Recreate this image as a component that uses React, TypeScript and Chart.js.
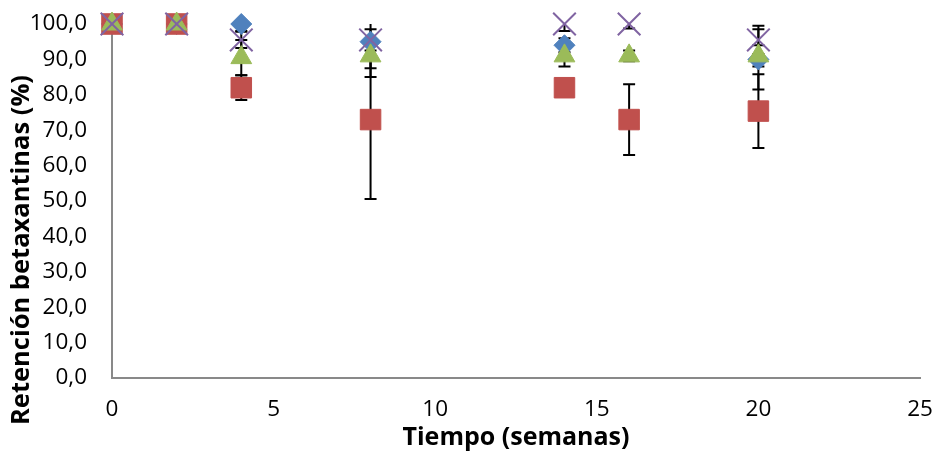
import React, { useEffect, useRef } from "react";
import { Chart, registerables } from "chart.js";

Chart.register(...registerables);

const weeks = [0, 2, 4, 8, 14, 16, 20];
const seriesBlue = [100, 100, 100, 95, 94, null, 90];
const errBlue = [0, 0, 2, 10, 2, 0, 8.5];
const seriesRed = [100, 100, 82, 73, 82, 73, 75.4];
const errRed = [0, 0, 3.5, 22.4, 2, 10, 10.4];
const seriesGreen = [100, 100, 90.5, 91, 91, 91, 91];
const errGreen = [0, 0, 5, 3.5, 3, 1.5, 3];
const seriesPurple = [100, 100, 95.5, 95.5, 100, 100, 95.5];
const errPurple = [0, 0, 2.3, 3, 2, 1.3, 4];
const yTitle = "Retención betaxantinas (%)";
const xTitle = "Tiempo (semanas)";

const errorsByDataset = [errBlue, errRed, errGreen, errPurple];

const errorBarPlugin = {
  id: "errorBars",
  beforeDatasetsDraw(chart: any) {
    const ctx = chart.ctx;
    const xs = chart.scales.x;
    const ys = chart.scales.y;
    const yMax = ys.max;
    ctx.save();
    ctx.strokeStyle = "#000";
    ctx.lineWidth = 2;
    chart.data.datasets.forEach((ds: any, i: number) => {
      const errs = errorsByDataset[i];
      ds.data.forEach((p: any, j: number) => {
        const e = errs[j];
        if (!e || p.y == null) return;
        const x = xs.getPixelForValue(p.x);
        const hiV = p.y + e;
        const loV = p.y - e;
        const yHi = ys.getPixelForValue(Math.min(hiV, yMax));
        const yLo = ys.getPixelForValue(loV);
        ctx.beginPath();
        ctx.moveTo(x, yHi);
        ctx.lineTo(x, yLo);
        if (hiV <= yMax) {
          ctx.moveTo(x - 6, yHi);
          ctx.lineTo(x + 6, yHi);
        }
        ctx.moveTo(x - 6, yLo);
        ctx.lineTo(x + 6, yLo);
        ctx.stroke();
      });
    });
    ctx.restore();
  },
};

const yTitlePlugin = {
  id: "yTitle",
  afterDraw(chart: any) {
    const ctx = chart.ctx;
    ctx.save();
    ctx.translate(22, 250);
    ctx.rotate(-Math.PI / 2);
    ctx.font = "bold 25.5px 'Open Sans'";
    ctx.fillStyle = "#000";
    ctx.textAlign = "center";
    ctx.textBaseline = "middle";
    ctx.fillText(yTitle, 0, 0);
    ctx.restore();
  },
};

const toPoints = (vals: (number | null)[]) => vals.map((v, i) => ({ x: weeks[i], y: v }));

export default function App() {
  const ref = useRef<HTMLCanvasElement>(null);
  useEffect(() => {
    if (!ref.current) return;
    const chart = new Chart(ref.current, {
      type: "scatter",
      data: {
        datasets: [
          {
            label: "Serie 1",
            data: toPoints(seriesBlue),
            pointStyle: "rectRot",
            pointRadius: 10.5,
            backgroundColor: "#4F81BD",
            borderColor: "#4F81BD",
            borderWidth: 1,
            order: 4,
          },
          {
            label: "Serie 2",
            data: toPoints(seriesRed),
            pointStyle: "rect",
            pointRadius: 14.5,
            backgroundColor: "#C0504D",
            borderColor: "#C0504D",
            borderWidth: 1,
            order: 3,
          },
          {
            label: "Serie 3",
            data: toPoints(seriesGreen),
            pointStyle: "triangle",
            pointRadius: 12,
            backgroundColor: "#9BBB59",
            borderColor: "#9BBB59",
            borderWidth: 1,
            order: 2,
          },
          {
            label: "Serie 4",
            data: toPoints(seriesPurple),
            pointStyle: "crossRot",
            pointRadius: 16,
            backgroundColor: "#8064A2",
            borderColor: "#8064A2",
            borderWidth: 2,
            order: 1,
          },
        ],
      },
      options: {
        responsive: false,
        animation: false,
        clip: false,
        layout: { padding: { left: 0, right: 18, top: 24, bottom: 0 } },
        plugins: {
          legend: { display: false },
          tooltip: { enabled: false },
        },
        scales: {
          x: {
            type: "linear",
            min: 0,
            max: 25,
            grid: { display: false, drawTicks: false },
            border: { display: true, color: "#898989", width: 2 },
            ticks: {
              stepSize: 5,
              color: "#000",
              padding: 18,
              font: { family: "'Open Sans'", size: 22.5 },
              maxRotation: 0,
            },
            title: {
              display: true,
              text: xTitle,
              color: "#000",
              font: { family: "'Open Sans'", size: 25, weight: "bold" },
              padding: { top: 0, bottom: 0 },
            },
            afterFit: (s: any) => {
              s.height = 75;
              s.paddingLeft = 0;
              s.paddingRight = 0;
            },
          },
          y: {
            type: "linear",
            min: 0,
            max: 100,
            grid: { display: false, drawTicks: false },
            border: { display: true, color: "#898989", width: 2 },
            ticks: {
              stepSize: 10,
              color: "#000",
              padding: 25,
              font: { family: "'Open Sans'", size: 22.5 },
              callback: (v: any) => Number(v).toFixed(1).replace(".", ","),
            },
            afterFit: (s: any) => {
              s.width = 112;
              s.paddingTop = 0;
              s.paddingBottom = 0;
            },
          },
        },
      },
      plugins: [errorBarPlugin, yTitlePlugin],
    } as any);
    return () => chart.destroy();
  }, []);
  return (
    <canvas
      ref={ref}
      width={938}
      height={453}
      style={{ position: "absolute", left: 0, top: 0, width: 938, height: 453 }}
    />
  );
}
